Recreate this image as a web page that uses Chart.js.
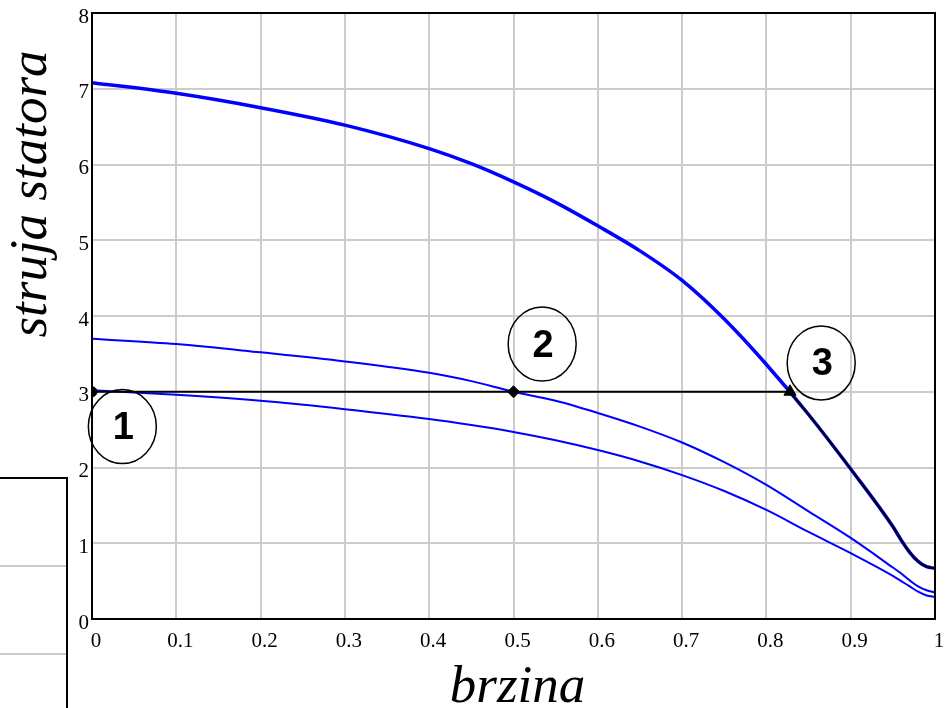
<!DOCTYPE html>
<html>
<head>
<meta charset="utf-8">
<script src="https://cdn.jsdelivr.net/npm/chart.js@4/dist/chart.umd.min.js"></script>
<style>
  body { margin: 0; background: #fff; }
  #wrap { width: 946px; height: 708px; }
</style>
</head>
<body>
<div id="wrap"><canvas id="chart" width="946" height="708"></canvas></div>
<script>
// speed (brzina) and stator current (struja statora)
const speed = [0, 0.1, 0.2, 0.3, 0.4, 0.45, 0.5, 0.55, 0.6, 0.65, 0.7, 0.75, 0.8, 0.85, 0.9, 0.95, 0.96, 0.97, 0.98, 0.99, 1.0]
const currentHigh = [7.08, 6.94, 6.75, 6.52, 6.21, 6.01, 5.77, 5.5, 5.19, 4.86, 4.47, 3.96, 3.36, 2.70, 1.98, 1.22, 1.04, 0.88, 0.76, 0.69, 0.67]
const currentMid = [3.70, 3.63, 3.52, 3.40, 3.25, 3.14, 3.0, 2.88, 2.72, 2.54, 2.33, 2.07, 1.77, 1.42, 1.07, 0.68, 0.60, 0.51, 0.43, 0.38, 0.35]
const currentLow = [3.02, 2.96, 2.88, 2.77, 2.64, 2.56, 2.47, 2.36, 2.23, 2.08, 1.90, 1.69, 1.44, 1.15, 0.87, 0.57, 0.50, 0.43, 0.36, 0.31, 0.29]

// operating path 1 -> 2 -> 3 and then down along the high curve
const pathSpeed = [0, 0.828]
const pathCurrent = [3.0, 3.0]
const tailSpeed = [0.828, 0.85, 0.9, 0.95, 0.96, 0.97, 0.98, 0.99, 1.0]
const tailCurrent = [3.0, 2.70, 1.98, 1.22, 1.04, 0.88, 0.76, 0.69, 0.67]

// marked points
const pointSpeed = [0, 0.5, 0.828]
const pointCurrent = [3.0, 3.0, 3.0]
const pointStyles = ["circle", "rectRot", "triangle"]
const pointSizes = [5, 6, 7]

// circled labels
const labelSpeed = [0.036, 0.534, 0.865]
const labelCurrent = [2.54, 3.63, 3.38]
const labelText = ["1", "2", "3"]

const xTicks = [0, 0.1, 0.2, 0.3, 0.4, 0.5, 0.6, 0.7, 0.8, 0.9, 1]
const yTicks = [0, 1, 2, 3, 4, 5, 6, 7, 8]

function toPoints(xs, ys) {
  return xs.map((x, i) => ({ x: x, y: ys[i] }))
}

// Draw the frame, circled labels and axis titles
const decorations = {
  id: "decorations",
  afterDatasetsDraw(chart) {
    const { ctx, chartArea, scales } = chart
    ctx.save()
    // circled numbers
    labelText.forEach((t, i) => {
      const cx = scales.x.getPixelForValue(labelSpeed[i])
      const cy = scales.y.getPixelForValue(labelCurrent[i])
      ctx.beginPath()
      ctx.ellipse(cx, cy, 34, 37, 0, 0, Math.PI * 2)
      ctx.lineWidth = 1.5
      ctx.strokeStyle = "#000"
      ctx.stroke()
      ctx.fillStyle = "#000"
      ctx.font = 'bold 38px "Liberation Sans"'
      ctx.textAlign = "center"
      ctx.textBaseline = "middle"
      ctx.fillText(t, cx + 1, cy + 2)
    })
    // frame
    ctx.lineWidth = 2
    ctx.strokeStyle = "#000"
    ctx.strokeRect(chartArea.left, chartArea.top, chartArea.right - chartArea.left, chartArea.bottom - chartArea.top)
    ctx.restore()
  },
  afterDraw(chart) {
    const { ctx, chartArea } = chart
    ctx.save()
    ctx.fillStyle = "#000"
    ctx.font = 'italic 53px "Liberation Serif"'
    ctx.textAlign = "center"
    ctx.textBaseline = "alphabetic"
    ctx.fillText("brzina", (chartArea.left + chartArea.right) / 2 + 4, 702)
    ctx.translate(46, 194)
    ctx.rotate(-Math.PI / 2)
    ctx.fillText("struja statora", 0, 0)
    ctx.restore()

    // leftover table edge at the lower left
    ctx.save()
    ctx.lineWidth = 2
    ctx.strokeStyle = "#cccccc"
    ctx.beginPath()
    ctx.moveTo(0, 566); ctx.lineTo(66, 566)
    ctx.moveTo(0, 654); ctx.lineTo(66, 654)
    ctx.stroke()
    ctx.strokeStyle = "#000"
    ctx.beginPath()
    ctx.moveTo(0, 478); ctx.lineTo(67, 478); ctx.lineTo(67, 708)
    ctx.stroke()
    ctx.restore()
  },
}

const curveStyle = {
  showLine: true,
  pointRadius: 0,
  cubicInterpolationMode: "monotone",
  fill: false,
}

new Chart(document.getElementById("chart"), {
  type: "scatter",
  data: {
    datasets: [
      {
        label: "points",
        data: toPoints(pointSpeed, pointCurrent),
        showLine: false,
        pointStyle: pointStyles,
        pointRadius: pointSizes,
        backgroundColor: "#000",
        borderColor: "#000",
        borderWidth: 1,
        order: 0,
      },
      {
        ...curveStyle,
        label: "path",
        data: toPoints(pathSpeed, pathCurrent),
        borderColor: "#000",
        borderWidth: 2,
        order: 1,
      },
      {
        ...curveStyle,
        label: "tail",
        data: toPoints(tailSpeed, tailCurrent),
        borderColor: "#000",
        borderWidth: 2,
        order: 1,
      },
      {
        ...curveStyle,
        label: "high",
        data: toPoints(speed, currentHigh),
        borderColor: "#0000ff",
        borderWidth: 3.5,
        order: 2,
      },
      {
        ...curveStyle,
        label: "mid",
        data: toPoints(speed, currentMid),
        borderColor: "#0000ff",
        borderWidth: 2,
        order: 3,
      },
      {
        ...curveStyle,
        label: "low",
        data: toPoints(speed, currentLow),
        borderColor: "#0000ff",
        borderWidth: 2,
        order: 3,
      },
    ],
  },
  options: {
    responsive: false,
    animation: false,
    layout: { padding: { top: 13, right: 11, left: 0, bottom: 0 } },
    plugins: {
      legend: { display: false },
      tooltip: { enabled: false },
    },
    scales: {
      x: {
        type: "linear",
        min: 0,
        max: 1,
        afterFit: (scale) => {
          scale.height = 89
          scale.paddingLeft = 0
          scale.paddingRight = 0
        },
        afterBuildTicks: (scale) => { scale.ticks = xTicks.map((v) => ({ value: v })) },
        grid: { color: "#cccccc", lineWidth: 2, drawTicks: false },
        border: { display: true, color: "#000", width: 2 },
        ticks: {
          color: "#000",
          font: { family: "Liberation Serif", size: 21 },
          padding: 10,
          labelOffset: 4,
          maxRotation: 0,
          callback: (v) => String(v),
        },
      },
      y: {
        type: "linear",
        min: 0,
        max: 8,
        afterFit: (scale) => {
          scale.width = 92
          scale.paddingTop = 0
          scale.paddingBottom = 0
        },
        afterBuildTicks: (scale) => { scale.ticks = yTicks.map((v) => ({ value: v })) },
        grid: { color: "#cccccc", lineWidth: 2, drawTicks: false },
        border: { display: true, color: "#000", width: 2 },
        ticks: {
          color: "#000",
          font: { family: "Liberation Serif", size: 21 },
          padding: 3,
          labelOffset: 4,
          callback: (v) => String(v),
        },
      },
    },
  },
  plugins: [decorations],
})
</script>
</body>
</html>
